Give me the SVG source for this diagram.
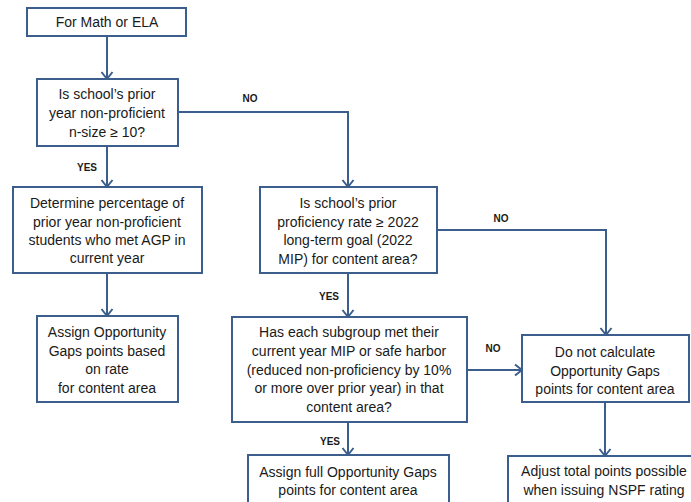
<svg xmlns="http://www.w3.org/2000/svg" width="691" height="502" viewBox="0 0 691 502">
<defs>
<marker id="arr" markerUnits="userSpaceOnUse" markerWidth="12" markerHeight="14" refX="8" refY="6" orient="auto" overflow="visible">
<path d="M1,0.5 L8,6 L1,11.5" fill="none" stroke="#3B5E8C" stroke-width="2"/>
</marker>
</defs>
<style>
rect{fill:#fff;stroke:#3B5E8C;stroke-width:2}
text{font-family:"Liberation Sans",Arial,sans-serif;font-size:14px;fill:#1a1a1a;text-anchor:middle}
.lbl{font-size:10px;font-weight:bold}
.c{fill:none;stroke:#3B5E8C;stroke-width:2}
</style>
<rect x="0" y="0" width="691" height="502" style="fill:#fff;stroke:none"/>
<g id="connectors">
<path class="c" d="M107,36 V79" marker-end="url(#arr)"/>
<path class="c" d="M107,146 V187" marker-end="url(#arr)"/>
<path class="c" d="M107,273 V316" marker-end="url(#arr)"/>
<path class="c" d="M178,112 H348 V187" marker-end="url(#arr)"/>
<path class="c" d="M437,230 H606 V335" marker-end="url(#arr)"/>
<path class="c" d="M348,273 V317" marker-end="url(#arr)"/>
<path class="c" d="M467,370 H522" marker-end="url(#arr)"/>
<path class="c" d="M348,422 V455" marker-end="url(#arr)"/>
<path class="c" d="M605,402 V456" marker-end="url(#arr)"/>
<text class="lbl" x="87" y="171">YES</text>
<text class="lbl" x="250" y="102">NO</text>
<text class="lbl" x="501" y="222">NO</text>
<text class="lbl" x="329" y="300">YES</text>
<text class="lbl" x="493" y="352">NO</text>
<text class="lbl" x="330" y="445">YES</text>
</g>
<g id="start">
<rect x="27" y="8" width="159" height="28"/>
<text x="107" y="27">For Math or ELA</text>
</g>
<g id="q1">
<rect x="37" y="79" width="141" height="67"/>
<text x="107" y="99">Is school’s prior</text>
<text x="107" y="118">year non-proficient</text>
<text x="107" y="137">n-size ≥ 10?</text>
</g>
<g id="determine">
<rect x="13" y="187" width="189" height="86"/>
<text x="107" y="208">Determine percentage of</text>
<text x="107" y="227">prior year non-proficient</text>
<text x="107" y="245">students who met AGP in</text>
<text x="107" y="263">current year</text>
</g>
<g id="assign-rate">
<rect x="37" y="316" width="141" height="86"/>
<text x="107" y="337">Assign Opportunity</text>
<text x="107" y="356">Gaps points based</text>
<text x="107" y="374">on rate</text>
<text x="107" y="393">for content area</text>
</g>
<g id="q2">
<rect x="260" y="187" width="177" height="86"/>
<text x="348" y="208">Is school’s prior</text>
<text x="348" y="227">proficiency rate ≥ 2022</text>
<text x="348" y="245">long-term goal (2022</text>
<text x="348" y="264">MIP) for content area?</text>
</g>
<g id="q3">
<rect x="232" y="317" width="235" height="105"/>
<text x="349" y="337">Has each subgroup met their</text>
<text x="349" y="356">current year MIP or safe harbor</text>
<text x="349" y="375">(reduced non-proficiency by 10%</text>
<text x="349" y="393">or more over prior year) in that</text>
<text x="349" y="412">content area?</text>
</g>
<g id="no-calc">
<rect x="522" y="335" width="167" height="67"/>
<text x="605" y="357">Do not calculate</text>
<text x="605" y="376">Opportunity Gaps</text>
<text x="605" y="394">points for content area</text>
</g>
<g id="assign-full">
<rect x="248" y="455" width="201" height="60"/>
<text x="348" y="477">Assign full Opportunity Gaps</text>
<text x="348" y="495">points for content area</text>
</g>
<g id="adjust">
<rect x="508" y="456" width="200" height="60"/>
<text x="604" y="476">Adjust total points possible</text>
<text x="604" y="495">when issuing NSPF rating</text>
</g>
</svg>
